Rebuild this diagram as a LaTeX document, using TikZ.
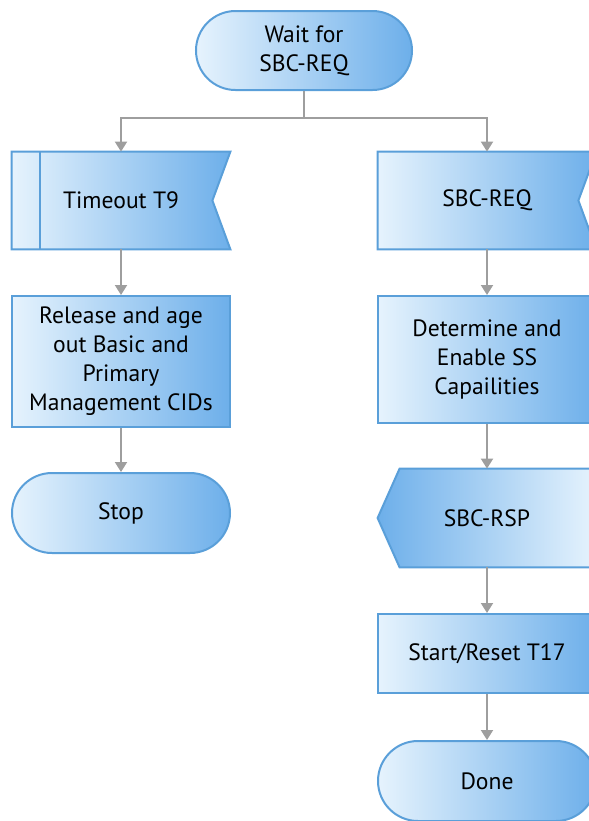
\documentclass[tikz,border=0pt]{standalone}
\usepackage{fontspec}
\setmainfont{PT Sans}
\usetikzlibrary{arrows.meta,backgrounds}
\definecolor{boxlight}{HTML}{E6F3FD}
\definecolor{boxdark}{HTML}{6DAFEA}
\definecolor{boxedge}{HTML}{5A9FD9}
\definecolor{linegray}{HTML}{9E9E9E}
\tikzset{boxshade/.style={draw=boxedge,line width=1pt,left color=boxlight,right color=boxdark}}
% signal shapes drawn behind their text nodes
\newcommand{\notchright}[1]{\path[boxshade] (#1.north west) -- (#1.north east) -- ([xshift=-9pt]#1.east) -- (#1.south east) -- (#1.south west) -- cycle;}
\newcommand{\pointleft}[1]{\path[boxshade,left color=boxdark,right color=boxlight] ([xshift=11pt]#1.north west) -- (#1.north east) -- (#1.south east) -- ([xshift=11pt]#1.south west) -- (#1.west) -- cycle;}

\begin{document}
\begin{tikzpicture}[x=0.5pt,y=-0.5pt,
  txt/.style={minimum width=109pt,inner sep=0pt,align=center,font=\fontsize{11.8}{14.5}\selectfont},
  box/.style={txt,boxshade},
  stadium/.style={box,minimum height=40pt,rounded corners=20pt},
  flow/.style={draw=linegray,line width=1pt},
  flowarrow/.style={flow,-{Triangle[length=5pt,width=6pt]}}]
\useasboundingbox (0,0) rectangle (589,821);

% start
\node[stadium,minimum width=108pt,minimum height=39.5pt,rounded corners=19.75pt] (wait) at (304,50.5) {Wait for\\SBC-REQ};
\coordinate (split) at (304,118);

% left branch
\node[txt,minimum height=48.5pt] (t9) at (121,200.5) {Timeout T9};
\node[box,minimum height=65.5pt] (release) at (121,361.5) {Release and age\\out Basic and\\Primary\\Management CIDs};
\node[stadium] (stop) at (121,513) {Stop};

% right branch
\node[txt,minimum height=48.5pt] (req) at (487,200.5) {SBC-REQ};
\node[box,minimum height=63.5pt] (determine) at (487,359.5) {Determine and\\Enable SS\\Capailities};
\node[txt,minimum height=49pt] (rsp) at (487,518) {SBC-RSP};
\node[box,minimum height=39.5pt] (restart) at (487,653.5) {Start/Reset T17};
\node[stadium] (done) at (487,781) {Done};

\begin{pgfonlayer}{background}
\notchright{t9}
\notchright{req}
\pointleft{rsp}
\end{pgfonlayer}
\draw[boxedge,line width=1pt] ([xshift=14pt]t9.north west) -- ([xshift=14pt]t9.south west);

% connectors
\draw[flow] (wait.south) -- (split);
\draw[flowarrow] (split) -| (t9.north);
\draw[flowarrow] (split) -| (req.north);
\draw[flowarrow] (t9) -- (release);
\draw[flowarrow] (release) -- (stop);
\draw[flowarrow] (req) -- (determine);
\draw[flowarrow] (determine) -- (rsp);
\draw[flowarrow] (rsp) -- (restart);
\draw[flowarrow] (restart) -- (done);
\end{tikzpicture}
\end{document}
